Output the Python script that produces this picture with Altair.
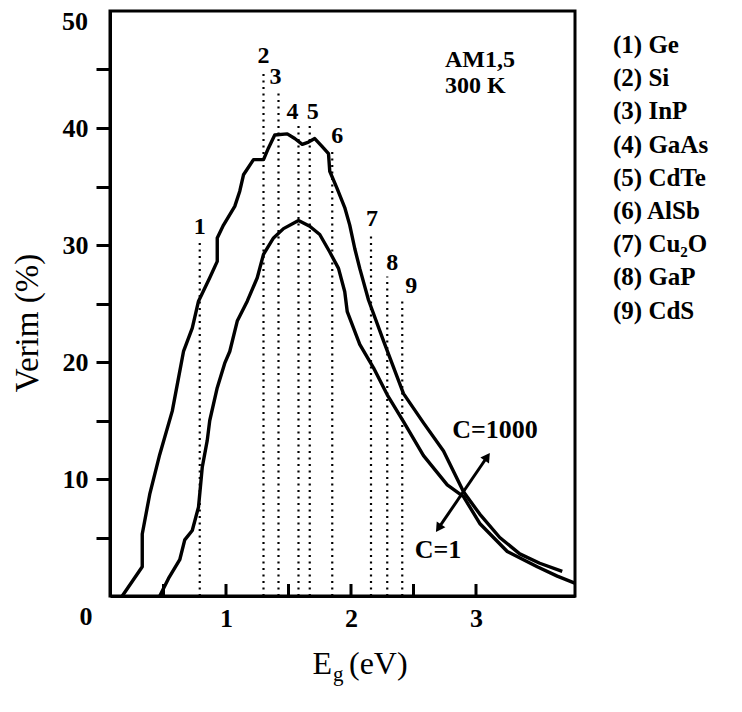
import altair as alt
import pandas as pd

# ---- data ----
# C=1000 curve (outer)
c1000_x = [0.17, 0.33, 0.33, 0.39, 0.47, 0.57, 0.63, 0.66, 0.73, 0.78, 0.87, 0.93, 0.93, 0.98,
           1.07, 1.11, 1.14, 1.22, 1.30, 1.34, 1.39, 1.49, 1.55, 1.61, 1.66, 1.71, 1.77, 1.82,
           1.83, 1.89, 1.95, 1.99, 2.03, 2.07, 2.14, 2.26, 2.42, 2.58, 2.74, 2.90, 3.03, 3.19,
           3.35, 3.51, 3.69]
c1000_y = [0.0, 2.5, 5.3, 8.7, 12.1, 15.8, 19.2, 20.9, 22.9, 25.2, 27.2, 28.6, 30.6, 31.7,
           33.3, 34.6, 36.0, 37.3, 37.3, 38.3, 39.4, 39.5, 39.1, 38.6, 38.8, 39.1, 38.4, 37.8,
           36.3, 34.8, 33.2, 31.7, 29.7, 28.0, 25.3, 21.8, 17.3, 14.8, 12.4, 8.9, 7.0, 5.0,
           3.6, 2.8, 2.1]
# C=1 curve (inner)
c1_x = [0.47, 0.54, 0.63, 0.67, 0.73, 0.78, 0.81, 0.85, 0.87, 0.93, 0.99, 1.03, 1.09, 1.17,
        1.25, 1.30, 1.38, 1.46, 1.58, 1.67, 1.75, 1.83, 1.90, 1.95, 1.97, 2.07, 2.18, 2.29,
        2.42, 2.58, 2.77, 2.90, 3.03, 3.25, 3.49, 3.65, 3.79]
c1_y = [0.0, 1.5, 3.1, 4.8, 5.6, 7.6, 11.0, 13.3, 15.0, 17.8, 19.9, 20.9, 23.5, 25.2,
        27.2, 29.2, 30.6, 31.4, 32.1, 31.6, 30.9, 29.4, 28.0, 26.0, 24.3, 21.5, 19.5, 17.2,
        14.9, 12.0, 9.5, 8.5, 6.2, 3.8, 2.5, 1.7, 1.1]

# band-gap markers
gap_num = ["1", "2", "3", "4", "5", "6", "7", "8", "9"]
gap_x = [0.79, 1.30, 1.42, 1.58, 1.67, 1.85, 2.16, 2.29, 2.41]
gap_top = [30.3, 45.0, 43.2, 40.2, 40.2, 38.1, 31.0, 27.3, 25.3]
gap_label_dx = [0, 0, -3, -6, 3, 5, 1, 5, 9]   # label nudge in px

legend_labels = ["(1) Ge", "(2) Si", "(3) InP", "(4) GaAs", "(5) CdTe",
                 "(6) AlSb", "(7) Cu\u2082O", "(8) GaP", "(9) CdS"]

x_label_vals = [1, 2, 3]
x_tick_vals = [0.5, 1, 1.5, 2, 2.5, 3]
y_tick_vals = [5, 10, 15, 20, 25, 30, 35, 40, 45]

arrow_x = [2.70, 3.09]
arrow_y = [5.8, 11.9]

# ---- layout ----
X_DOMAIN = [0.072, 3.792]
Y_DOMAIN = [0, 50]
W, H = 465, 585
PX_PER_X = W / (X_DOMAIN[1] - X_DOMAIN[0])
FONT = "Liberation Serif"

xs = alt.Scale(domain=X_DOMAIN, nice=False, zero=False)
ys = alt.Scale(domain=Y_DOMAIN, nice=False, zero=False)

x_axis = alt.Axis(values=x_label_vals, ticks=False, tickSize=0, labelPadding=9, title=None,
                  labelFont=FONT, labelFontSize=26, labelFontWeight="bold", labelColor="black",
                  domainColor="black", domainWidth=3, grid=False, format="d", labelFlush=False)
y_axis = alt.Axis(values=y_tick_vals, title=None,
                  labelExpr="datum.value % 10 == 0 ? datum.label : ''",
                  tickSize=14, tickWidth=3, tickColor="black",
                  labelPadding=8, labelFont=FONT, labelFontSize=26, labelFontWeight="bold",
                  labelColor="black", domainColor="black", domainWidth=3, grid=False,
                  labelFlush=False, labelBaseline="middle")


def X(field):
    return alt.X(field, scale=xs, axis=x_axis)


def Y(field):
    return alt.Y(field, scale=ys, axis=y_axis)


curves = pd.concat([
    pd.DataFrame({"x": c1000_x, "y": c1000_y, "series": "C=1000", "i": range(len(c1000_x))}),
    pd.DataFrame({"x": c1_x, "y": c1_y, "series": "C=1", "i": range(len(c1_x))}),
])
gaps = pd.DataFrame({
    "x": gap_x, "top": gap_top, "zero": 0.0, "num": gap_num,
    "lx": [gx + d / PX_PER_X for gx, d in zip(gap_x, gap_label_dx)],
})

line_layer = alt.Chart(curves).mark_line(color="black", strokeWidth=3.4, strokeJoin="round").encode(
    x=X("x:Q"), y=Y("y:Q"), detail="series:N", order="i:Q",
)

dotted = alt.Chart(gaps).mark_rule(color="black", strokeWidth=2.2, strokeDash=[2, 4.5]).encode(
    x=X("x:Q"), y=Y("zero:Q"), y2="top:Q",
)
gap_labels = alt.Chart(gaps).mark_text(font=FONT, fontSize=24, fontWeight="bold", color="black",
                                       baseline="middle", dy=-14).encode(
    x=X("lx:Q"), y=Y("top:Q"), text="num:N",
)

xticks = alt.Chart(pd.DataFrame({"x": x_tick_vals})).mark_rule(color="black", strokeWidth=3).encode(
    x=X("x:Q"), y=alt.value(H), y2=alt.value(H - 12),
)

one = pd.DataFrame({"a": [0]})


def txt(text, x, y, align="left", size=26, weight="bold", dx=0, dy=0):
    return alt.Chart(pd.DataFrame({"x": [x], "y": [y], "t": [text]})).mark_text(
        font=FONT, fontSize=size, fontWeight=weight, color="black", align=align,
        baseline="middle", dx=dx, dy=dy).encode(x=X("x:Q"), y=Y("y:Q"), text="t:N")


annots = [
    txt("AM1,5", 2.752, 45.8, size=24),
    txt("300 K", 2.752, 43.6, size=24),
    txt("C=1000", 3.152, 14.2, align="center"),
    txt("C=1", 2.696, 3.9, align="center"),
    txt("0", X_DOMAIN[0], 0, align="center", dx=-24, dy=21),
    txt("50", X_DOMAIN[0], Y_DOMAIN[1], align="right", dx=-22, dy=11),
]

arrow_df = pd.DataFrame({"x": [arrow_x[0]], "y": [arrow_y[0]], "x2": [arrow_x[1]], "y2": [arrow_y[1]]})
arrow_line = alt.Chart(arrow_df).mark_rule(color="black", strokeWidth=3).encode(
    x=X("x:Q"), y=Y("y:Q"), x2="x2:Q", y2="y2:Q")
head_up = alt.Chart(pd.DataFrame({"x": [arrow_x[1]], "y": [arrow_y[1]]})).mark_point(
    shape="triangle-up", filled=True, color="black", size=110, angle=34.3, opacity=1).encode(
    x=X("x:Q"), y=Y("y:Q"))
head_dn = alt.Chart(pd.DataFrame({"x": [arrow_x[0]], "y": [arrow_y[0]]})).mark_point(
    shape="triangle-up", filled=True, color="black", size=110, angle=214.3, opacity=1).encode(
    x=X("x:Q"), y=Y("y:Q"))

# axis titles
y_title = alt.Chart(one).mark_text(font=FONT, fontSize=33, color="black", angle=270,
                                   align="center", baseline="middle").encode(
    x=alt.value(-82), y=alt.value(312), text=alt.value("Verim (%)"))
xt_E = alt.Chart(one).mark_text(font=FONT, fontSize=32, color="black", align="right",
                                baseline="alphabetic").encode(
    x=alt.value(222), y=alt.value(663), text=alt.value("E"))
xt_g = alt.Chart(one).mark_text(font=FONT, fontSize=21, color="black", align="left",
                                baseline="alphabetic").encode(
    x=alt.value(223), y=alt.value(670), text=alt.value("g"))
xt_ev = alt.Chart(one).mark_text(font=FONT, fontSize=32, color="black", align="left",
                                 baseline="alphabetic").encode(
    x=alt.value(239), y=alt.value(663), text=alt.value("(eV)"))

legend_layers = []
for i, lab in enumerate(legend_labels):
    legend_layers.append(
        alt.Chart(one).mark_text(font=FONT, fontSize=25, fontWeight="bold", color="black",
                                 align="left", baseline="middle").encode(
            x=alt.value(503), y=alt.value(34 + i * 33.2), text=alt.value(lab)))

chart = alt.layer(
    line_layer, dotted, gap_labels, xticks, arrow_line, head_up, head_dn,
    *annots, y_title, xt_E, xt_g, xt_ev, *legend_layers
).properties(
    width=W, height=H,
    autosize=alt.AutoSizeParams(type="none"),
    padding={"left": 102, "top": 3, "right": 157, "bottom": 106},
    background="white",
).configure_view(stroke="black", strokeWidth=3)

chart.save("out.html", embed_options={"renderer": "svg", "actions": False})
